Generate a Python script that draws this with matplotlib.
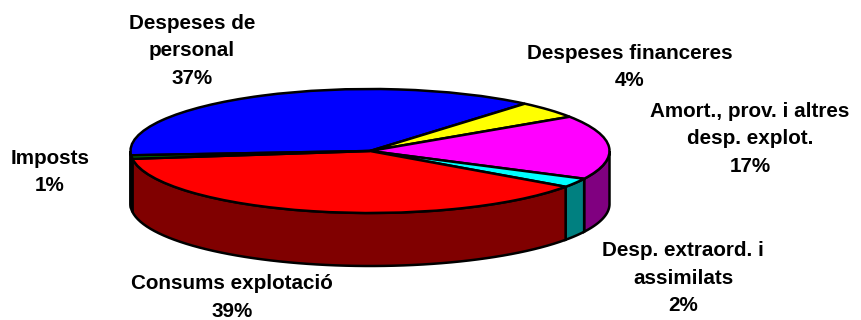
import numpy as np
import matplotlib
matplotlib.use('Agg')
import matplotlib.pyplot as plt
from matplotlib.patches import Polygon

labels = ['Despeses de\npersonal\n37%', 'Despeses financeres\n4%', 'Amort., prov. i altres\ndesp. explot.\n17%',
          'Desp. extraord. i\nassimilats\n2%', 'Consums explotació\n39%', 'Imposts\n1%']
values = [37.3, 4.5, 16.7, 2.4, 38.2, 0.9]
top_colors = ['#0000ff', '#ffff00', '#ff00ff', '#00ffff', '#ff0000', '#008000']
side_colors = ['#000080', '#808000', '#800080', '#008080', '#800000', '#004000']
# label centres in pixels
label_x = [192, 630, 750, 683, 232, 50]
label_y = [51, 67, 139, 278, 297.5, 172]

W, H = 861, 320
cx, cy = 370, 151  # pie centre in pixels
rx, ry, depth = 239.5, 62, 53

fig = plt.figure(figsize=(W / 100, H / 100), dpi=100)
ax = fig.add_axes([0, 0, 1, 1])
wedges, _ = ax.pie(values, startangle=184, counterclock=False, colors=top_colors, radius=1,
                   wedgeprops=dict(edgecolor='k', linewidth=1.8))
ax.set_aspect('auto')
ax.set_xlim(-cx / rx, (W - cx) / rx)
ax.set_ylim(-(H - cy) / ry, cy / ry)
ax.axis('off')

# side wall under the front half of the pie
d = depth / ry
for w, c in zip(wedges, side_colors):
    a1, a2 = w.theta1 % 360, w.theta2 % 360
    if a2 <= a1:
        a2 += 360
    for shift in (0, 360):
        lo, hi = max(a1, 180 + shift), min(a2, 360 + shift)
        if hi <= lo:
            continue
        t = np.radians(np.linspace(lo, hi, 60))
        x, y = np.cos(t), np.sin(t)
        pts = np.column_stack([np.r_[x, x[::-1]], np.r_[y, y[::-1] - d]])
        ax.add_patch(Polygon(pts, closed=True, facecolor=c, edgecolor='k', linewidth=1.8, zorder=0.5))

for lab, lx, ly in zip(labels, label_x, label_y):
    ax.text((lx - cx) / rx, (cy - ly) / ry, lab, ha='center', va='center', family='Liberation Sans',
            fontweight='bold', fontsize=14.9, linespacing=1.55, color='k')

fig.savefig('out.png', dpi=100)
